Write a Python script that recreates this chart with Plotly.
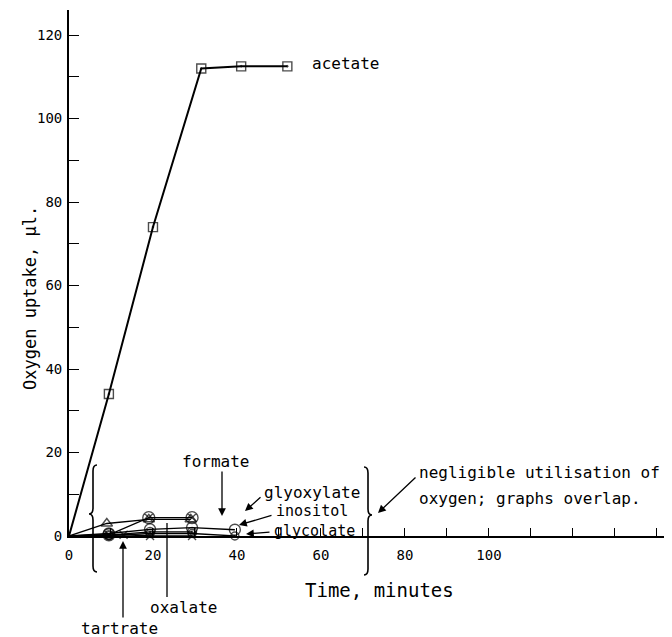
import plotly.graph_objects as go

# ---------------- data ----------------
acetate_t = [0, 9.5, 20, 31.5, 41, 52]
acetate_v = [0, 34, 74, 112, 112.5, 112.5]

formate_t = [0, 9, 19, 29]
formate_v = [0, 3.0, 4.0, 4.0]

glyoxylate_t = [0, 9.5, 19, 29.3]
glyoxylate_v = [0, 0.3, 4.4, 4.4]

inositol_t = [0, 9.5, 19.3, 29.3, 39.5]
inositol_v = [0, 0.6, 1.6, 2.0, 1.5]

glycolate_t = [0, 9.5, 19.3, 29.3, 39.5]
glycolate_v = [0, 0.1, 0.6, 0.6, 0.0]

oxalate_t = [0, 9.5, 19.3, 29.3]
oxalate_v = [0, 0.2, 1.0, 1.0]

tartrate_t = [0, 13, 19.3, 29.3]
tartrate_v = [0, 0.3, 0.0, 0.0]

x_tickvals = [0, 20, 40, 60, 80, 100]
y_tickvals = [0, 20, 40, 60, 80, 100, 120]

# ---------------- layout geometry ----------------
# the page body adds an 8px offset, so the figure is drawn 8px smaller
OFF = 8
W, H = 672 - OFF, 637 - OFF
L, R, T, B = 69 - OFF, 0, 10 - OFF, 101
XMAX = 143.6
YMAX = 126.0
PW, PH = W - L - R, H - T - B


def pxp(px):
    # page pixel -> paper fraction
    return (px - OFF - L) / PW


def pyp(py):
    return (T + PH - (py - OFF)) / PH


FONT = "DejaVu Sans Mono"
fig = go.Figure()


def series(t, v, symbol, size=9, width=1.3):
    sizes = [0] + [size] * (len(t) - 1)   # no marker at the origin
    fig.add_trace(go.Scatter(
        x=t, y=v, mode="lines+markers",
        line=dict(color="black", width=width),
        marker=dict(symbol=symbol, size=sizes, color="black",
                    line=dict(color="black", width=1.4)),
        showlegend=False, cliponaxis=False))


series(tartrate_t, tartrate_v, "x-thin-open", 8)
series(glycolate_t, glycolate_v, "circle-open-dot", 8)
series(oxalate_t, oxalate_v, "circle-open-dot", 9)
series(inositol_t, inositol_v, "circle-open", 11)
series(formate_t, formate_v, "triangle-up-open", 10)
series(glyoxylate_t, glyoxylate_v, "circle-x-open", 12)
series(acetate_t, acetate_v, "square-open-dot", 9, 2.0)

ann = []


def text(px, py, s, size=16, xanchor="left"):
    ann.append(dict(x=pxp(px), y=pyp(py), xref="paper", yref="paper", text=s,
                    showarrow=False, xanchor=xanchor, yanchor="middle",
                    font=dict(family=FONT, size=size, color="black")))


def arrow(tx, ty, hx, hy, head=2):
    ann.append(dict(x=pxp(hx), y=pyp(hy), ax=tx - hx, ay=ty - hy,
                    xref="paper", yref="paper", text="",
                    showarrow=True, arrowhead=head, arrowsize=1.2,
                    arrowwidth=1.3, arrowcolor="black"))


text(310, 63, "acetate")
text(215, 461, "formate", 16, "center")
arrow(222, 470, 222, 516)
text(262, 492, "glyoxylate")
arrow(262, 496, 245, 511)
text(274, 511, "inositol", 15)
arrow(273, 515, 239, 525)
text(272, 531, "glycolate", 15)
arrow(271, 532, 246, 534)
text(183, 607, "oxalate", 16, "center")
text(119, 628, "tartrate", 16, "center")
arrow(123, 619, 123, 541)
text(417, 472, "negligible utilisation of")
text(417, 498, "oxygen; graphs overlap.")
arrow(417, 476, 378, 513)
text(303, 590, "Time, minutes", 19)
ann.append(dict(x=pxp(18), y=pyp(298), xref="paper", yref="paper",
                text="Oxygen uptake, \u03bcl.", textangle=-90, showarrow=False,
                font=dict(family=FONT, size=17, color="black")))

shapes = []
# oxalate pointer line
shapes.append(dict(type="line", xref="paper", yref="paper",
                   x0=pxp(167), y0=pyp(597), x1=pxp(167), y1=pyp(523),
                   line=dict(color="black", width=1.3)))


def brace(xc, y0, y1, ym, w, direction):
    # direction -1: '{' (tip to the left); +1: '}' (tip to the right)
    xb = xc
    xe = xc - direction * w
    xt = xc + direction * w
    r = 6
    pts = [
        f"M {pxp(xe)},{pyp(y0)}",
        f"Q {pxp(xb)},{pyp(y0)} {pxp(xb)},{pyp(y0 + r)}",
        f"L {pxp(xb)},{pyp(ym - r)}",
        f"Q {pxp(xb)},{pyp(ym)} {pxp(xt)},{pyp(ym)}",
        f"Q {pxp(xb)},{pyp(ym)} {pxp(xb)},{pyp(ym + r)}",
        f"L {pxp(xb)},{pyp(y1 - r)}",
        f"Q {pxp(xb)},{pyp(y1)} {pxp(xe)},{pyp(y1)}",
    ]
    return dict(type="path", xref="paper", yref="paper", path=" ".join(pts),
                line=dict(color="black", width=1.6))


shapes.append(brace(93, 465, 572, 514, 4, -1))
shapes.append(brace(368, 467, 575, 515, 4, 1))

fig.update_layout(
    width=W, height=H,
    margin=dict(l=L, r=R, t=T, b=B, pad=0),
    paper_bgcolor="white", plot_bgcolor="white",
    annotations=ann, shapes=shapes,
    font=dict(family=FONT, size=14, color="black"),
    xaxis=dict(range=[0, XMAX], tickmode="array", tickvals=x_tickvals,
               ticks="inside", ticklen=8, tickwidth=1.2, tickcolor="black",
               minor=dict(dtick=10, tick0=0, ticks="inside", ticklen=8,
                          tickwidth=1.2, tickcolor="black"),
               showline=True, linecolor="black", linewidth=1.5,
               showgrid=False, zeroline=False,
               tickfont=dict(family=FONT, size=14), ticklabelstandoff=5),
    yaxis=dict(range=[0, YMAX], tickmode="array", tickvals=y_tickvals,
               ticks="inside", ticklen=10, tickwidth=1.2, tickcolor="black",
               minor=dict(dtick=10, tick0=0, ticks="inside", ticklen=10,
                          tickwidth=1.2, tickcolor="black"),
               showline=True, linecolor="black", linewidth=1.8,
               showgrid=False, zeroline=False,
               tickfont=dict(family=FONT, size=14), ticklabelstandoff=2),
)

fig.write_html("out.html")
